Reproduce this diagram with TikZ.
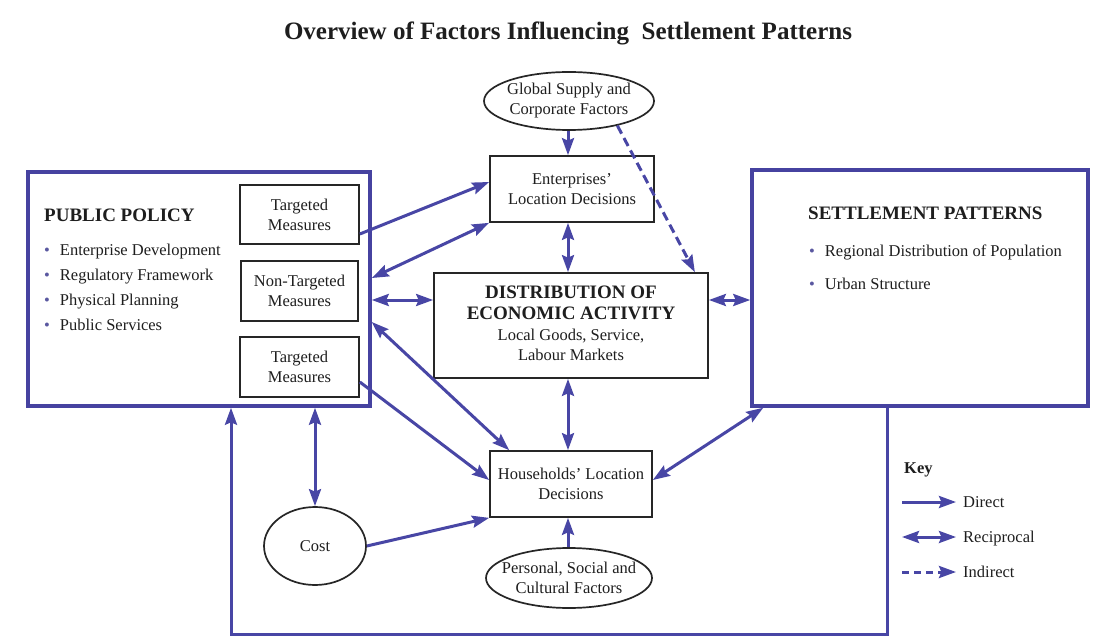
\documentclass[tikz,border=0pt]{standalone}
\usepackage{fontspec}
\setmainfont{Liberation Serif}
\usetikzlibrary{arrows.meta,shapes.geometric,calc}
\definecolor{arrc}{RGB}{72,70,165}
\definecolor{boxblue}{RGB}{70,66,160}
\definecolor{txt}{RGB}{30,30,30}
\definecolor{bul}{RGB}{90,88,160}
\newcommand{\bodyf}{\fontsize{16.5}{20}\selectfont}
\newcommand{\bigbf}{\fontsize{19}{22}\bfseries\selectfont}
\tikzset{
  plain/.style={draw=black!85, line width=1.7pt, rectangle, inner sep=0pt, align=center, font=\bodyf, text=txt},
  oval/.style={draw=black!85, line width=1.7pt, ellipse, inner sep=0pt, align=center, font=\bodyf, text=txt},
  bigbox/.style={draw=boxblue, line width=3.5pt, rectangle, inner sep=0pt},
  direct/.style={draw=arrc, line width=3pt, -{Stealth[length=17pt,width=12pt,inset=2.5pt]}},
  recip/.style={draw=arrc, line width=3pt, {Stealth[length=17pt,width=12pt,inset=2.5pt]}-{Stealth[length=17pt,width=12pt,inset=2.5pt]}},
  indirect/.style={direct, dash pattern=on 9pt off 5pt},
  lbl/.style={font=\bodyf, text=txt, inner sep=0pt, anchor=base west},
}
\begin{document}
\begin{tikzpicture}[x=1pt,y=-1pt]
\useasboundingbox[fill=white] (0,0) rectangle (1110,644);

% title
\node[font=\fontsize{25}{29}\bfseries\selectfont, text=txt, inner sep=0pt, anchor=base] (title) at (568,40) {Overview of Factors Influencing\ \ Settlement Patterns};

% public policy
\node[bigbox, minimum width=342pt, minimum height=234pt] (pp) at (199,289) {};
\node[font=\bigbf, text=txt, inner sep=0pt, anchor=base west] (ppt) at (44,222) {PUBLIC POLICY};
\node[lbl] (pb1) at (44,255) {\textcolor{bul}{\textbullet}\hspace{10pt}Enterprise Development};
\node[lbl] (pb2) at (44,280) {\textcolor{bul}{\textbullet}\hspace{10pt}Regulatory Framework};
\node[lbl] (pb3) at (44,305) {\textcolor{bul}{\textbullet}\hspace{10pt}Physical Planning};
\node[lbl] (pb4) at (44,330) {\textcolor{bul}{\textbullet}\hspace{10pt}Public Services};
\node[plain, minimum width=119pt, minimum height=59pt] (tm1) at (299.5,214.5) {Targeted\\Measures};
\node[plain, minimum width=117pt, minimum height=60pt] (ntm) at (299.5,291) {Non-Targeted\\Measures};
\node[plain, minimum width=119pt, minimum height=60pt] (tm2) at (299.5,367) {Targeted\\Measures};

% centre column
\node[oval, inner xsep=-3pt, minimum width=170pt, minimum height=58pt] (glob) at (569,101) {Global Supply and\\Corporate Factors};
\node[plain, minimum width=164pt, minimum height=66pt] (ent) at (572,189) {Enterprises'\\Location Decisions};
\node[plain, minimum width=274pt, minimum height=105pt] (dist) at (571,325.5)
  {\begin{tabular}{@{}c@{}}\bigbf DISTRIBUTION OF\\[1pt] \bigbf ECONOMIC ACTIVITY\\[1pt] Local Goods, Service,\\ Labour Markets\end{tabular}};
\node[plain, minimum width=162pt, minimum height=66pt] (hh) at (571,484) {Households' Location\\Decisions};
\node[oval, inner xsep=-9pt, minimum width=166pt, minimum height=60pt] (pers) at (569,578) {Personal, Social and\\Cultural Factors};
\node[oval, minimum width=102pt, minimum height=78pt] (cost) at (315,546) {Cost};

% settlement patterns
\node[bigbox, minimum width=336pt, minimum height=236pt] (sp) at (920,288) {};
\node[font=\bigbf, text=txt, inner sep=0pt, anchor=base west] (spt) at (808,220) {SETTLEMENT PATTERNS};
\node[lbl] (sb1) at (809,257) {\textcolor{bul}{\textbullet}\hspace{10pt}Regional Distribution of Population};
\node[lbl] (sb2) at (809,289) {\textcolor{bul}{\textbullet}\hspace{10pt}Urban Structure};

% connectors
\draw[direct] (glob.south -| 568,0) -- (568,0 |- ent.north);
\draw[indirect] (glob.-27) -- ([xshift=-14pt]dist.north east);
\draw[direct] ([yshift=-19.5pt]tm1.east) -- ([yshift=7pt]ent.west);
\draw[recip] (ent.south west) -- ([yshift=11pt]pp.east);
\draw[recip] ([yshift=-11pt]pp.east) -- ([yshift=-11pt]pp.east -| dist.west);
\draw[recip] (ent.south -| 568,0) -- (568,0 |- dist.north);
\draw[recip] ([yshift=25.5pt]dist.east) -- ([yshift=25.5pt]dist.east -| sp.west);
\draw[recip] ([yshift=-33pt]pp.east) -- ([xshift=20pt]hh.north west);
\draw[direct] ([yshift=-15pt]tm2.east) -- ([yshift=4pt]hh.west);
\draw[recip] (dist.south -| 568,0) -- (568,0 |- hh.north);
\draw[recip] ([xshift=13pt]sp.south west) -- ([yshift=4pt]hh.east);
\draw[recip] (cost.north) -- (cost.north |- pp.south);
\draw[direct] (cost.east) -- (hh.south west);
\draw[direct] (pers.north -| 568,0) -- (568,0 |- hh.south);
\coordinate (lc) at (231,634);
\draw[direct] ([xshift=-33pt]sp.south) |- (lc) -- (lc |- pp.south);

% key
\node[font=\fontsize{16.5}{20}\bfseries\selectfont, text=txt, inner sep=0pt, anchor=base west] (key) at (904,473) {Key};
\coordinate (k1a) at (902,502); \coordinate (k1b) at (956,502);
\coordinate (k2a) at (902,537); \coordinate (k2b) at (956,537);
\coordinate (k3a) at (902,572); \coordinate (k3b) at (956,572);
\draw[direct] (k1a) -- (k1b);
\draw[recip] (k2a) -- (k2b);
\draw[indirect, dash pattern=on 7pt off 5pt] (k3a) -- (k3b);
\node[lbl] (kd) at (963,507) {Direct};
\node[lbl] (kr) at (963,542) {Reciprocal};
\node[lbl] (ki) at (963,577) {Indirect};
\end{tikzpicture}
\end{document}
